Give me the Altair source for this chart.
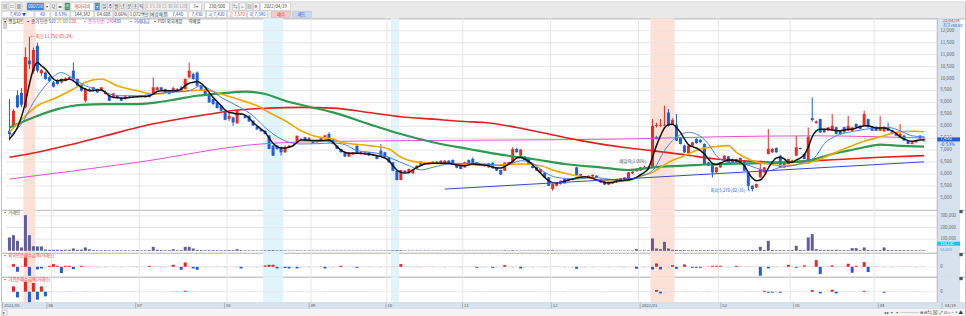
import altair as alt
import pandas as pd

FONT = "Noto Sans CJK KR"
W = 966

# ---------------- values ----------------
month_labels = ["2021/05", "06", "07", "08", "09", "10", "11", "12", "2022/01", "02", "03", "04"]
month_start = [0, 11, 33, 55, 76, 95, 114, 136, 158, 178, 196, 217]
last_date_label = "04/19"

opens = [7810, 7960, 9300, 9400, 8800, 10750, 10300, 11370, 10220, 10250,
         10050, 9840, 9940, 9840, 9910, 10000, 10330, 9980, 9770, 9070,
         9560, 9630, 9560, 9490, 9350, 9280, 9210, 9280, 9210, 9140,
         9250, 9210, 9240, 9230, 9280, 9220, 9350, 9520, 9630, 9560,
         9490, 9420, 9560, 9630, 9560, 10050, 10190, 10250, 9700, 9560,
         9350, 9140, 9000, 8860, 8650, 8300, 8370, 8130, 8510, 8440,
         8440, 8230, 7990, 7880, 7810, 7610, 7190, 7190, 7120, 6910,
         7120, 7190, 7330, 7470, 7540, 7400, 7400, 7330, 7400, 7540,
         7680, 7460, 7190, 7050, 6910, 6730, 6820, 7190, 6860, 6910,
         6910, 6770, 6770, 6980, 6910, 6700, 6490, 6140, 5750, 6140,
         6030, 6030, 6210, 6520, 6490, 6420, 6450, 6520, 6450, 6460,
         6560, 6590, 6420, 6380, 6280, 6590, 6630, 6490, 6350, 6330,
         6280, 6470, 6280, 6170, 6140, 6400, 6490, 7050, 6770, 6730,
         6630, 6350, 6280, 6070, 6070, 5860, 5370, 5510, 5580, 5790,
         5720, 5800, 6280, 5930, 5830, 5860, 5900, 5930, 5790, 5690,
         5560, 5650, 5650, 5720, 5770, 5830, 6030, 6120, 6150, 6250,
         6200, 6280, 8000, 8020, 8020, 8580, 8070, 8070, 7540, 7190,
         6870, 7190, 7470, 7430, 7260, 6490, 6420, 6070, 6280, 6560,
         6740, 6630, 6490, 6670, 6560, 6070, 5510, 5440, 5860, 6070,
         6840, 6910, 7090, 6770, 6280, 6420, 6560, 6770, 7090, 6840,
         6450, 8340, 8130, 8300, 7880, 7820, 7860, 7960, 7820, 7960,
         7820, 7810, 8100, 8020, 8020, 8300, 7960, 7960, 7810, 7790,
         7960, 7840, 7740, 7540, 7610, 7400, 7260, 7330, 7610, 7420]
closes = [7680, 8650, 8800, 8900, 10900, 10600, 11200, 10330, 10350, 9980,
          9900, 9660, 9770, 9980, 10000, 10050, 9980, 9700, 9490, 9560,
          9490, 9490, 9420, 9630, 9420, 9070, 9380, 9170, 9070, 9250,
          9210, 9240, 9230, 9280, 9220, 9280, 9630, 9630, 9490, 9420,
          9350, 9600, 9460, 9490, 9980, 10330, 9980, 9700, 9490, 9350,
          9000, 8930, 8760, 8650, 8270, 8440, 8160, 8650, 8520, 8340,
          8200, 8030, 7870, 7790, 7680, 7050, 6770, 7050, 6910, 7120,
          7190, 7190, 7600, 7430, 7400, 7500, 7290, 7400, 7500, 7620,
          7330, 7260, 7050, 6910, 6730, 6910, 6910, 6870, 6910, 6850,
          6770, 6840, 6630, 6770, 6700, 6490, 6140, 5750, 6170, 6070,
          6210, 6170, 6350, 6350, 6420, 6490, 6520, 6430, 6560, 6560,
          6420, 6450, 6260, 6210, 6490, 6420, 6450, 6350, 6380, 6400,
          6450, 6240, 6140, 5980, 6480, 6490, 7050, 6910, 7020, 6590,
          6420, 6250, 6140, 6210, 5860, 5510, 5580, 5650, 5720, 5610,
          5790, 5760, 5960, 6000, 5890, 5930, 5960, 5860, 5650, 5560,
          5650, 5610, 5790, 5820, 5860, 6070, 6100, 6210, 6280, 6280,
          6300, 8020, 8050, 8060, 8060, 8020, 8260, 7400, 7260, 6910,
          7190, 7330, 7290, 7330, 6420, 6350, 6070, 6280, 6490, 6770,
          6490, 6460, 6630, 6490, 6140, 5510, 5370, 5580, 6210, 6280,
          7050, 7050, 6910, 6280, 6490, 6630, 6580, 7120, 7050, 6630,
          7560, 8260, 8200, 7740, 7750, 7950, 8020, 7680, 7680, 7750,
          8020, 7950, 7960, 7890, 8510, 7960, 7810, 7810, 7950, 7960,
          7810, 7680, 7610, 7680, 7400, 7260, 7330, 7400, 7490, 7450]
highs = [9140, 8720, 9500, 9600, 11300, 11750, 11300, 11500, 10400, 10300,
         10100, 9900, 9980, 10000, 10050, 10080, 10670, 10000, 9800, 9600,
         9600, 9650, 9580, 9650, 9500, 9300, 9400, 9300, 9220, 9300,
         9280, 9260, 9270, 9300, 9300, 9300, 10050, 9660, 9650, 9580,
         9520, 9650, 9600, 9680, 10000, 10670, 10250, 10300, 9720, 9580,
         9380, 9160, 9030, 8880, 8680, 8620, 8400, 8680, 8560, 8460,
         8460, 8250, 8010, 7900, 7830, 7640, 7220, 7200, 7150, 7200,
         7220, 7220, 7620, 7500, 7560, 7550, 7430, 7420, 7530, 7640,
         7750, 7480, 7210, 7060, 6930, 6920, 6920, 7200, 6950, 6930,
         6920, 6860, 6780, 7260, 6930, 6720, 6500, 6160, 6180, 6160,
         6230, 6200, 6370, 6540, 6510, 6500, 6530, 6530, 6570, 6580,
         6580, 6610, 6440, 6390, 6520, 6610, 6700, 6500, 6400, 6430,
         6460, 6490, 6300, 6190, 6490, 6510, 7120, 7100, 7050, 6750,
         6650, 6370, 6300, 6220, 6090, 5880, 5600, 5660, 5730, 5810,
         5800, 5820, 6310, 6010, 5900, 5940, 5990, 5950, 5810, 5700,
         5670, 5670, 5800, 5830, 5870, 6090, 6120, 6230, 6300, 6350,
         6320, 8300, 8150, 8300, 8860, 8720, 8330, 8510, 7560, 7230,
         7200, 7350, 7500, 7460, 7280, 6510, 6440, 6300, 6500, 6790,
         6760, 6650, 6640, 6690, 6580, 6090, 5530, 5600, 6560, 6300,
         7880, 7100, 7120, 6790, 6500, 6640, 6600, 7600, 7110, 6860,
         7950, 9210, 8250, 8320, 7900, 7970, 8510, 7980, 7840, 7980,
         8440, 7970, 8120, 8050, 8650, 8320, 7980, 8000, 8440, 8000,
         8150, 7860, 7760, 8100, 7630, 7420, 7350, 7420, 7620, 7570]
lows = [7400, 7900, 8750, 8800, 8750, 10400, 10200, 10250, 10100, 9950,
        9850, 9620, 9740, 9800, 9880, 9950, 9950, 9680, 9450, 9000,
        9450, 9480, 9400, 9480, 9330, 9050, 9200, 9150, 9050, 9120,
        9180, 9190, 9200, 9210, 9200, 9200, 9330, 9500, 9480, 9400,
        9330, 9400, 9440, 9480, 9540, 10000, 9950, 9650, 9470, 9330,
        8980, 8900, 8750, 8640, 8250, 8220, 8020, 8100, 8480, 8330,
        8180, 8020, 7860, 7780, 7660, 7040, 6750, 7020, 6770, 6890,
        7100, 7150, 7300, 7400, 7380, 7380, 7280, 7300, 7380, 7520,
        7320, 7240, 7040, 6900, 6720, 6720, 6800, 6860, 6800, 6840,
        6760, 6760, 6620, 6750, 6690, 6480, 6120, 5740, 5730, 6050,
        6010, 6010, 6190, 6340, 6410, 6400, 6430, 6420, 6430, 6440,
        6410, 6440, 6240, 6200, 6260, 6410, 6430, 6340, 6330, 6310,
        6260, 6230, 6130, 5960, 6120, 6380, 6470, 6900, 6750, 6580,
        6410, 6240, 6130, 6050, 5850, 5500, 5300, 5490, 5560, 5600,
        5700, 5740, 5920, 5860, 5810, 5840, 5880, 5840, 5640, 5540,
        5540, 5600, 5630, 5700, 5750, 5810, 6000, 6100, 6130, 6210,
        6180, 6260, 7950, 7980, 8000, 7990, 8050, 7380, 7240, 6880,
        6850, 7170, 7270, 7310, 6400, 6330, 5860, 6050, 6260, 6540,
        6480, 6450, 6470, 6480, 6130, 5330, 5270, 5420, 5840, 6050,
        6820, 6890, 6890, 6260, 6260, 6400, 6540, 6750, 7030, 6620,
        6430, 8200, 8110, 7720, 7730, 7800, 7840, 7660, 7660, 7730,
        7800, 7790, 7940, 7870, 8000, 7940, 7800, 7800, 7790, 7770,
        7800, 7660, 7590, 7520, 7390, 7250, 7240, 7310, 7450, 7340]

volumes = [114000, 134000, 86000, 29000, 306000, 134000, 40000, 38000, 38000, 12000,
           9000, 9000, 9000, 8000, 9000, 9000, 20000, 9000, 10000, 29000,
           12000, 6000, 5000, 5000, 6000, 5000, 5000, 6000, 5000, 5000,
           5000, 5000, 6000, 5000, 5000, 7000, 34000, 9000, 7000, 6000,
           6000, 14000, 6000, 7000, 34000, 34000, 20000, 9000, 7000, 6000,
           6000, 6000, 6000, 5000, 6000, 6000, 6000, 14000, 6000, 5000,
           5000, 5000, 5000, 5000, 5000, 6000, 7000, 5000, 5000, 5000,
           4000, 4000, 5000, 4000, 4000, 4000, 4000, 4000, 4000, 4000,
           4000, 4000, 4000, 4000, 4000, 4000, 4000, 4000, 4000, 4000,
           4000, 4000, 4000, 4000, 4000, 4000, 5000, 6000, 6000, 4000,
           4000, 4000, 4000, 4000, 4000, 4000, 4000, 4000, 4000, 4000,
           4000, 4000, 4000, 4000, 4000, 4000, 4000, 4000, 4000, 4000,
           4000, 4000, 4000, 4000, 5000, 4000, 6000, 4000, 4000, 4000,
           4000, 4000, 4000, 4000, 4000, 5000, 6000, 4000, 4000, 4000,
           4000, 4000, 5000, 4000, 4000, 4000, 4000, 4000, 4000, 4000,
           4000, 4000, 4000, 4000, 4000, 4000, 4000, 14000, 4000, 4000,
           5000, 106000, 20000, 14000, 77000, 20000, 9000, 8000, 6000, 6000,
           5000, 5000, 5000, 5000, 6000, 5000, 6000, 5000, 5000, 5000,
           5000, 5000, 5000, 5000, 5000, 6000, 7000, 6000, 34000, 7000,
           86000, 7000, 6000, 6000, 5000, 5000, 6000, 43000, 7000, 6000,
           114000, 143000, 14000, 9000, 8000, 8000, 8000, 9000, 6000, 6000,
           6000, 23000, 23000, 6000, 29000, 8000, 6000, 6000, 6000, 29000,
           7000, 6000, 6000, 6000, 6000, 6000, 5000, 5000, 5000, 5000]

foreign_net = [0, 8, -15, 2, 28, -27, 1, -8, -5, -2,
               3, 8, 3, -19, 3, 3, -7, 1, 3, 1,
               -1, 1, -2, -1, -2, 1, 2, -1, -2, 1,
               -1, 2, -2, 1, -1, 3, 1, 2, -2, -2,
               1, 6, -2, -9, 13, 2, -5, -9, 1, -2,
               1, -1, 2, -1, -2, 1, 1, -2, -5, 1,
               -1, 1, -2, 1, 4, 6, 6, -5, -2, -4,
               -5, -2, -5, -2, 1, -2, 1, -1, 2, -5,
               1, -2, 1, 3, -1, 1, -2, -3, 1, -1,
               2, -1, 1, -2, 1, -1, 2, 1, 8, 2,
               1, -1, 2, -2, 1, 1, 2, -1, 1, -2,
               1, -1, 1, -2, 1, -1, 2, -3, -2, -2,
               1, -3, -2, 1, 5, 1, -2, 1, -5, -2,
               1, -2, 1, 1, -2, 1, -1, 2, 1, -2,
               1, -2, -6, 1, -2, 1, -2, 1, -1, 1,
               -2, 1, -1, 2, -2, 1, -1, -6, 1, -2,
               1, -8, 10, -8, 1, -2, 5, -6, 1, 7,
               1, -3, -3, -3, 1, 2, 3, 3, 3, 1,
               -2, 1, 3, 2, 1, 2, -1, 1, -27, 1,
               -5, 1, -2, 1, 2, 6, 1, -3, 2, 4,
               1, 2, 20, -22, 1, 2, 4, -2, 1, 2,
               9, -18, 3, 1, 14, -16, 1, 2, 1, -2,
               1, -2, 1, -1, 2, 2, -1, -2, 1, -1]

inst_net = [0, 16, -17, 0, 30, -32, 26, -24, 16, -14,
            2, 0, 0, 0, 0, 2, 0, 0, 0, 2,
            -1, 0, 0, 0, 0, 0, 0, 0, 0, 0,
            0, 2, 0, 0, 0, 0, 0, 0, 0, 0,
            0, 2, 2, 0, 3, -1, -1, 0, 0, 0,
            0, 0, 0, 0, 0, 0, 0, 0, 0, 0,
            0, 0, 0, 0, 0, 0, 0, 0, 0, 0,
            0, 0, 0, 0, 0, 0, 0, 0, 0, -1,
            0, 0, 0, 0, 0, 0, 0, 0, 0, 0,
            0, 0, 0, 0, 0, 0, 0, 0, 0, 0,
            0, 0, 0, 0, 0, 0, 0, 0, 0, 0,
            0, 0, 0, 0, 0, 0, 0, 0, -1, -1,
            0, 0, 0, 0, 0, 0, 0, 0, 0, 0,
            0, 0, 0, 0, 0, 0, 1, 0, 0, -1,
            0, 0, 0, 0, 0, 0, 0, 0, 0, 0,
            0, 0, 0, 0, 0, 0, 0, 0, 0, 0,
            0, 1, 5, -5, 1, -1, 1, -1, 0, 1,
            -1, 1, -1, 0, 1, -1, 0, 0, 0, 0,
            0, 0, 0, 0, 0, 0, 0, 0, 0, 3,
            -3, -3, -2, -3, 0, 0, 0, 0, 0, 0,
            0, 5, 1, -5, 0, 1, 6, -5, 0, 0,
            0, 0, 0, 0, 3, 1, 0, 0, 0, -3,
            0, 0, 0, 0, 0, 0, 0, 0, 0, 0]

# moving-average lines (candle index, price)
ma5_i = [0, 2, 4, 5, 6, 7, 8, 9, 10, 11, 12, 13, 14, 15, 16, 17, 18, 19, 20, 21, 22, 23, 24, 25, 26, 27, 28, 30, 32, 34, 35, 36, 37, 38, 40, 42, 43, 44, 45, 46, 47, 48, 49, 50, 51, 52, 53, 54, 55, 56, 57, 58, 59, 60, 61, 62, 63, 64, 65, 66, 67, 68, 69, 70, 71, 72, 73, 74, 76, 78, 80, 81, 82, 83, 84, 85, 86, 87, 88, 89, 90, 91, 92, 93, 94, 95, 96, 97, 98, 99, 100, 101, 102, 103, 104, 106, 108, 110, 112, 114, 116, 118, 120, 122, 123, 124, 125, 126, 127, 128, 129, 130, 131, 132, 133, 134, 135, 136, 137, 138, 139, 140, 141, 142, 143, 144, 145, 146, 147, 148, 149, 150, 151, 152, 153, 154, 155, 156, 157, 158, 159, 160, 161, 162, 163, 164, 165, 166, 167, 168, 169, 170, 171, 172, 173, 174, 175, 176, 177, 178, 179, 180, 181, 182, 183, 184, 185, 186, 187, 188, 189, 190, 191, 192, 193, 194, 195, 196, 197, 198, 199, 200, 201, 202, 203, 204, 205, 206, 207, 208, 209, 210, 211, 212, 213, 214, 215, 216, 217, 218, 219, 220, 221, 222, 223, 224, 225, 226, 227, 228, 229]
ma5_v = [7470, 7950, 9000, 9770, 10400, 10675, 10535, 10400, 10190, 9980, 9900, 9935, 9935, 9980, 9900, 9770, 9630, 9560, 9490, 9490, 9520, 9520, 9420, 9280, 9210, 9210, 9170, 9210, 9240, 9250, 9280, 9350, 9460, 9490, 9490, 9490, 9560, 9700, 9800, 9840, 9880, 9800, 9630, 9420, 9210, 9040, 8860, 8680, 8580, 8555, 8510, 8510, 8470, 8345, 8160, 8020, 7880, 7745, 7510, 7285, 7145, 7090, 7090, 7120, 7190, 7330, 7425, 7425, 7400, 7400, 7425, 7330, 7150, 7000, 6910, 6870, 6870, 6870, 6870, 6840, 6840, 6810, 6770, 6730, 6670, 6560, 6350, 6170, 6070, 6040, 6070, 6170, 6280, 6350, 6420, 6450, 6450, 6450, 6380, 6350, 6420, 6390, 6350, 6250, 6250, 6310, 6420, 6530, 6670, 6700, 6630, 6530, 6390, 6210, 6030, 5860, 5720, 5640, 5625, 5650, 5700, 5750, 5790, 5830, 5860, 5890, 5860, 5830, 5750, 5700, 5650, 5640, 5650, 5700, 5720, 5740, 5760, 5790, 5860, 5970, 6070, 6250, 6700, 7190, 7600, 7930, 8070, 8090, 7950, 7745, 7470, 7230, 7150, 7090, 6980, 6840, 6630, 6450, 6390, 6450, 6530, 6590, 6590, 6560, 6490, 6350, 6070, 5830, 5720, 5750, 5930, 6250, 6490, 6670, 6700, 6630, 6490, 6490, 6590, 6670, 6810, 7120, 7560, 7810, 7880, 7880, 7880, 7840, 7810, 7810, 7840, 7880, 7880, 7930, 7980, 8020, 8020, 7980, 7930, 7930, 7930, 7880, 7810, 7700, 7560, 7470, 7400, 7370, 7400, 7425, 7440]
ma10_i = [0, 3, 6, 9, 13, 15, 19, 23, 27, 32, 36, 40, 45, 48, 50, 53, 57, 61, 64, 68, 70, 73, 77, 81, 84, 87, 92, 96, 100, 103, 106, 110, 116, 121, 124, 128, 131, 134, 137, 142, 146, 150, 153, 157, 161, 164, 166, 168, 170, 172, 175, 177, 180, 184, 187, 190, 193, 196, 199, 202, 204, 207, 210, 213, 217, 220, 223, 226, 229]
ma10_v = [7600, 8100, 9000, 9700, 10250, 10100, 9700, 9490, 9280, 9280, 9350, 9420, 9490, 9700, 9560, 9210, 8860, 8440, 7950, 7470, 7330, 7260, 7270, 7300, 7230, 6980, 6870, 6630, 6350, 6170, 6280, 6420, 6450, 6390, 6350, 6560, 6450, 6070, 5860, 5790, 5860, 5790, 5720, 5860, 6140, 6980, 7400, 7650, 7745, 7675, 7260, 6770, 6490, 6420, 6250, 6140, 6280, 6350, 6490, 6770, 7260, 7600, 7745, 7840, 7930, 7950, 7810, 7600, 7560]
ma20_i = [0, 4, 7, 11, 16, 19, 23, 27, 32, 36, 40, 45, 49, 53, 57, 62, 65, 69, 73, 77, 81, 83, 90, 95, 98, 101, 106, 111, 116, 121, 124, 129, 133, 136, 139, 144, 148, 152, 155, 157, 161, 165, 169, 173, 177, 180, 182, 186, 190, 194, 198, 202, 206, 210, 214, 218, 222, 226, 229]
ma20_v = [7745, 8440, 8860, 9140, 9560, 9840, 9980, 9700, 9490, 9350, 9420, 9490, 9520, 9350, 9140, 8860, 8580, 8230, 7815, 7560, 7470, 7330, 7190, 7050, 6700, 6530, 6450, 6420, 6390, 6350, 6400, 6420, 6350, 6170, 6030, 5860, 5750, 5700, 5720, 5860, 6070, 6490, 6770, 7050, 7150, 7190, 6910, 6560, 6420, 6350, 6420, 6560, 6840, 7120, 7370, 7560, 7745, 7790, 7770]
ma60_i = [0, 6, 12, 18, 24, 32, 37, 42, 47, 53, 59, 64, 69, 75, 81, 90, 98, 106, 115, 123, 131, 139, 148, 155, 161, 169, 177, 186, 194, 200, 206, 210, 214, 218, 222, 229]
ma60_v = [7950, 8370, 8720, 8900, 8930, 8930, 9000, 9140, 9280, 9380, 9450, 9350, 9070, 8820, 8580, 8090, 7675, 7330, 7050, 6810, 6630, 6420, 6280, 6170, 6280, 6350, 6420, 6450, 6490, 6560, 6840, 6980, 7120, 7230, 7190, 7150]
ma120_i = [0, 7, 16, 24, 32, 40, 49, 57, 65, 73, 81, 90, 98, 106, 114, 119, 127, 135, 143, 155, 161, 169, 177, 186, 194, 202, 210, 218, 229]
ma120_v = [6700, 6910, 7260, 7600, 7950, 8230, 8480, 8680, 8760, 8790, 8760, 8580, 8400, 8300, 8200, 8160, 7950, 7675, 7400, 7090, 6980, 6810, 6630, 6530, 6490, 6560, 6630, 6700, 6770]
ma240_i = [0, 32, 63, 81, 120, 155, 177, 202, 218, 229]
ma240_v = [5790, 6490, 7260, 7370, 7420, 7470, 7560, 7600, 7560, 7510]
trend_i = [109, 229]
trend_v = [5370, 6510]

band_start = [4, 64, 96, 161]
band_end = [6, 68, 97, 166]
band_kind = ["pink", "blue", "blue", "pink"]

price_levels = [5000, 5500, 6000, 6500, 7000, 7500, 8000, 8500, 9000, 9500, 10000, 10500, 11000, 11500, 12000]
volume_levels = [100000, 200000, 300000]
last_price, last_change_pct = 7450, "-0.53%"
last_volume, volume_ma = "144,142", "64,608"
high_note = ("← 최고 11,750 (05/24)", 5, 11750)
low_note = ("최저 5,270 (02/16) →", 186, 5270)
div_note = ("배당락(1.00%)", 160, 6490)
signal_i, signal_v = [162], [7523]

# ---------------- layout / styling ----------------
N = len(closes)
X_DOM = [-0.87, 238.0]
STRIP = 232.3
UP, DOWN = "#ee2a1f", "#1f5ed6"
BAND_COL = {"pink": "#fde0d6", "blue": "#e0f4fc"}
GRID = "#e6e6e6"
STRIP_COL = "#d7e2ef"
H_HDR, H_PRICE, H_VOL, H_F, H_I, H_AX, H_SC = 17, 192, 43, 24, 26, 6, 8
FS = 4.3


def X(field):
    return alt.X(field, type="quantitative", scale=alt.Scale(domain=X_DOM, nice=False, zero=False), axis=None)


def PX(field):
    return alt.X(field, type="quantitative", scale=None, axis=None)


def PY(field):
    return alt.Y(field, type="quantitative", scale=None, axis=None)


bands_df = pd.DataFrame({"a": [s - 0.5 for s in band_start], "b": [e + 0.5 for e in band_end],
                         "col": [BAND_COL[k] for k in band_kind]})
mgrid_df = pd.DataFrame({"m": [s - 0.5 for s in month_start[1:]]})
strip_df = pd.DataFrame({"a": [STRIP], "b": [X_DOM[1]]})


def background(h, with_bands=True):
    layers = []
    if with_bands:
        layers.append(alt.Chart(bands_df).mark_rect().encode(
            x=X("a"), x2="b", y=alt.value(0), y2=alt.value(h), color=alt.Color("col:N", scale=None)))
    layers.append(alt.Chart(mgrid_df).mark_rule(color=GRID, strokeWidth=1).encode(
        x=X("m"), y=alt.value(0), y2=alt.value(h)))
    layers.append(alt.Chart(strip_df).mark_rect(color=STRIP_COL).encode(
        x=X("a"), x2="b", y=alt.value(0), y2=alt.value(h)))
    layers.append(alt.Chart(strip_df).mark_rule(color="#a9b9cf", strokeWidth=1).encode(
        x=X("a"), y=alt.value(0), y2=alt.value(h)))
    return layers


def panel_tag(text, color):
    df = pd.DataFrame({"t": [text]})
    return alt.Chart(df).mark_text(align="left", baseline="top", fontSize=FS, font=FONT, color=color).encode(
        x=alt.value(2), y=alt.value(1.5), text="t:N")


def corner_button():
    df = pd.DataFrame({"t": ["■"]})
    return alt.Chart(df).mark_text(align="right", baseline="top", fontSize=4, font=FONT, color="#555").encode(
        x=alt.value(W - 2), y=alt.value(1.5), text="t:N")


# ---------- price panel ----------
P_DOM = [4498, 12523]


def PYs(field):
    return alt.Y(field, type="quantitative", scale=alt.Scale(domain=P_DOM, nice=False, zero=False), axis=None)


cdf = pd.DataFrame({"i": list(range(N)), "o": opens, "h": highs, "l": lows, "c": closes})
cdf["col"] = [UP if c >= o else DOWN for o, c in zip(opens, closes)]

hgrid_df = pd.DataFrame({"p": price_levels, "a": X_DOM[0], "b": STRIP})
plabel_df = pd.DataFrame({"p": price_levels, "x": STRIP, "t": [f"{v:,}" for v in price_levels]})

price_layers = background(H_PRICE)
price_layers.append(alt.Chart(hgrid_df).mark_rule(color=GRID, strokeWidth=1).encode(
    y=PYs("p"), x=X("a"), x2="b"))
price_layers.append(alt.Chart(cdf).mark_rule(strokeWidth=1).encode(
    x=X("i"), y=PYs("l"), y2="h", color=alt.Color("col:N", scale=None)))
price_layers.append(alt.Chart(cdf).mark_bar(size=3).encode(
    x=X("i"), y=PYs("o"), y2="c", color=alt.Color("col:N", scale=None)))

ma_specs = [(ma240_i, ma240_v, "#e052d2", 1.0), (ma120_i, ma120_v, "#e41f1f", 1.6),
            (ma60_i, ma60_v, "#2f9a52", 2.2), (ma20_i, ma20_v, "#f1a800", 1.6),
            (ma10_i, ma10_v, "#4c80f0", 1.0), (ma5_i, ma5_v, "#111111", 1.5)]
for mi, mv, col, sw in ma_specs:
    price_layers.append(alt.Chart(pd.DataFrame({"i": mi, "v": mv})).mark_line(
        color=col, strokeWidth=sw, interpolate="monotone").encode(x=X("i"), y=PYs("v")))
price_layers.append(alt.Chart(pd.DataFrame({"i": trend_i, "v": trend_v})).mark_line(
    color="#3848c4", strokeWidth=1).encode(x=X("i"), y=PYs("v")))
price_layers.append(alt.Chart(pd.DataFrame({"i": signal_i, "v": signal_v})).mark_point(
    shape="cross", size=14, filled=True, color="#2438e0").encode(x=X("i"), y=PYs("v")))

notes = pd.DataFrame({"t": [high_note[0]], "i": [high_note[1]], "v": [high_note[2]]})
price_layers.append(alt.Chart(notes).mark_text(align="left", baseline="middle", dx=1, fontSize=FS,
                                               font=FONT, color="#e53030").encode(
    x=X("i"), y=PYs("v"), text="t:N"))
notes2 = pd.DataFrame({"t": [low_note[0]], "i": [low_note[1]], "v": [low_note[2]]})
price_layers.append(alt.Chart(notes2).mark_text(align="right", baseline="middle", dx=-2, fontSize=FS,
                                                font=FONT, color="#2a4fd8").encode(
    x=X("i"), y=PYs("v"), text="t:N"))
notes3 = pd.DataFrame({"t": [div_note[0]], "i": [div_note[1]], "v": [div_note[2]]})
price_layers.append(alt.Chart(notes3).mark_text(align="right", baseline="middle", dx=-2, fontSize=FS,
                                                font=FONT, color="#555555").encode(
    x=X("i"), y=PYs("v"), text="t:N"))

price_layers.append(alt.Chart(plabel_df).mark_text(align="left", baseline="middle", dx=3, fontSize=4.6,
                                                   font=FONT, color="#666666").encode(
    x=X("x"), y=PYs("p"), text="t:N"))
cur_df = pd.DataFrame({"a": [STRIP], "b": [X_DOM[1]], "lo": [last_price - 85], "hi": [last_price + 85],
                       "v": [last_price], "t": [f"{last_price:,}"], "pct": [last_change_pct],
                       "vp": [last_price - 230]})
price_layers.append(alt.Chart(cur_df).mark_rect(color="#1f5fd0").encode(
    x=X("a"), x2="b", y=PYs("lo"), y2="hi"))
price_layers.append(alt.Chart(cur_df).mark_text(align="left", baseline="middle", dx=3, fontSize=4.6,
                                                font=FONT, color="white").encode(
    x=X("a"), y=PYs("v"), text="t:N"))
price_layers.append(alt.Chart(cur_df).mark_text(align="left", baseline="middle", dx=3, fontSize=4.6,
                                                font=FONT, color="#2a55d0").encode(
    x=X("a"), y=PYs("vp"), text="pct:N"))

legend_items = pd.DataFrame({
    "x": [2, 25, 50, 56, 62, 68, 82, 106, 113, 128, 152, 188],
    "t": ["▣ 캔들차트", "▪ 종가 단순 5", "10", "20", "60", "120", "▪ 종가 단순", "240", "480", "▪ 거래대금",
          "▪ FIDI 외국계창", "역배열"],
    "col": ["#333333", "#333333", "#3060e0", "#e0a000", "#2f9a52", "#e41f1f", "#e052d2", "#e052d2",
            "#3060e0", "#3060e0", "#333333", "#333333"]})
price_layers.append(alt.Chart(legend_items).mark_text(align="left", baseline="middle", fontSize=FS,
                                                      font=FONT).encode(
    x=PX("x"), y=alt.value(3.5), text="t:N", color=alt.Color("col:N", scale=None)))
price_layers.append(alt.Chart(pd.DataFrame({"t": ["▤"]})).mark_text(
    align="left", baseline="middle", fontSize=FS, font=FONT, color="#555555").encode(
    x=alt.value(2), y=alt.value(9), text="t:N"))
top_notes = pd.DataFrame({"t": ["22/04/19", "최고+98.60"], "y": [3, 8], "col": ["#e53030", "#3060e0"]})
price_layers.append(alt.Chart(top_notes).mark_text(align="left", baseline="middle", fontSize=4,
                                                   font=FONT).encode(
    x=alt.value(944), y=PY("y"), text="t:N", color=alt.Color("col:N", scale=None)))

price = alt.layer(*price_layers).properties(width=W, height=H_PRICE)

# ---------- volume panel ----------
V_DOM = [-17000, 351000]


def VY(field):
    return alt.Y(field, type="quantitative", scale=alt.Scale(domain=V_DOM, nice=False, zero=False), axis=None)


vdf = pd.DataFrame({"i": list(range(N)), "v": volumes, "z": 0})
vgrid = pd.DataFrame({"p": volume_levels, "a": X_DOM[0], "b": STRIP, "x": STRIP,
                      "t": [f"{v:,}" for v in volume_levels]})
vol_layers = background(H_VOL)
vol_layers.append(alt.Chart(vgrid).mark_rule(color=GRID).encode(y=VY("p"), x=X("a"), x2="b"))
vol_layers.append(alt.Chart(vdf).mark_bar(size=3, color="#615e9a").encode(x=X("i"), y=VY("v"), y2="z"))
vol_layers.append(alt.Chart(vgrid).mark_text(align="left", baseline="middle", dx=3, fontSize=4.4, font=FONT,
                                             color="#666666").encode(x=X("x"), y=VY("p"), text="t:N"))
vbox = pd.DataFrame({"a": [STRIP], "b": [X_DOM[1]], "lo": [44000], "hi": [78000], "m": [61000],
                     "t": [last_volume], "t2": [volume_ma], "m2": [4000]})
vol_layers.append(alt.Chart(vbox).mark_rect(color="#19c3f0").encode(x=X("a"), x2="b", y=VY("lo"), y2="hi"))
vol_layers.append(alt.Chart(vbox).mark_text(align="left", baseline="middle", dx=3, fontSize=3.8, font=FONT,
                                            color="white").encode(x=X("a"), y=VY("m"), text="t:N"))
vol_layers.append(alt.Chart(vbox).mark_text(align="left", baseline="middle", dx=3, fontSize=3.8, font=FONT,
                                            color="#5aa0e0").encode(x=X("a"), y=VY("m2"), text="t2:N"))
vol_layers.append(panel_tag("▪ 거래량", "#555555"))
vol_layers.append(corner_button())
volume = alt.layer(*vol_layers).properties(width=W, height=H_VOL)


# ---------- indicator panels ----------
def indicator(values, dom, h, tag):
    def IY(field):
        return alt.Y(field, type="quantitative", scale=alt.Scale(domain=dom, nice=False, zero=False), axis=None)
    cols = []
    for v in values:
        if v > 2:
            cols.append("#ee2020")
        elif v > 0:
            cols.append("#f6b4b4")
        elif v < -2:
            cols.append("#1f5ed6")
        elif v < 0:
            cols.append("#a9c2f0")
        else:
            cols.append("#f3d0d0")
    df = pd.DataFrame({"i": list(range(N)), "v": [v if v != 0 else 0.6 for v in values], "z": 0, "col": cols})
    zero = pd.DataFrame({"p": [0], "a": X_DOM[0], "b": STRIP, "x": STRIP, "t": ["0"]})
    layers = background(h)
    layers.append(alt.Chart(zero).mark_rule(color="#eeeeee").encode(y=IY("p"), x=X("a"), x2="b"))
    layers.append(alt.Chart(df).mark_bar(size=3).encode(x=X("i"), y=IY("v"), y2="z",
                                                        color=alt.Color("col:N", scale=None)))
    layers.append(alt.Chart(zero).mark_text(align="left", baseline="middle", dx=3, fontSize=4.6, font=FONT,
                                            color="#666666").encode(x=X("x"), y=IY("p"), text="t:N"))
    layers.append(panel_tag(tag, "#e53030"))
    layers.append(corner_button())
    return alt.layer(*layers).properties(width=W, height=h)


ind1 = indicator(foreign_net, [-30, 42], H_F, "▪ 외국인순매수금액(거래소)")
ind2 = indicator(inst_net, [-33, 45], H_I, "▪ 기관순매수금액(거래소)")

# ---------- x axis strip ----------
full_df = pd.DataFrame({"a": [X_DOM[0]], "b": [X_DOM[1]]})
ax_lab = pd.DataFrame({"m": [s - 0.5 for s in month_start], "t": month_labels})
ax_layers = [
    alt.Chart(full_df).mark_rect(color=STRIP_COL).encode(x=X("a"), x2="b", y=alt.value(0), y2=alt.value(H_AX)),
    alt.Chart(ax_lab).mark_rule(color="#aab6c6").encode(x=X("m"), y=alt.value(0), y2=alt.value(H_AX)),
    alt.Chart(ax_lab).mark_text(align="left", baseline="middle", dx=1.5, fontSize=4.2, font=FONT,
                                color="#555555").encode(x=X("m"), y=alt.value(3.2), text="t:N"),
    alt.Chart(pd.DataFrame({"a": [STRIP], "t": [last_date_label]})).mark_text(
        align="left", baseline="middle", dx=3, fontSize=4.2, font=FONT, color="#555555").encode(
        x=X("a"), y=alt.value(3.2), text="t:N"),
    alt.Chart(strip_df).mark_rule(color="#a9b9cf").encode(x=X("a"), y=alt.value(0), y2=alt.value(H_AX)),
]
xaxis = alt.layer(*ax_layers).properties(width=W, height=H_AX)

# ---------- scroll bar ----------
sc_text = pd.DataFrame({"x": [3, 964], "t": ["▸", "◂ ▸ ▪ ▪ ┈┈┈┈ ⊞ ⊟ ⇆ ⊠ ⤢ ⊡ ⌕ − + ▲"]})
sc_layers = [
    alt.Chart(pd.DataFrame({"x0": [0], "x1": [W]})).mark_rect(color="#f4f4f4").encode(
        x=PX("x0"), x2="x1", y=alt.value(0), y2=alt.value(H_SC)),
    alt.Chart(pd.DataFrame({"x0": [1], "x1": [6]})).mark_rect(color="#ffffff", stroke="#999999",
                                                             strokeWidth=0.5).encode(
        x=PX("x0"), x2="x1", y=alt.value(1.5), y2=alt.value(6.5)),
    alt.Chart(sc_text.iloc[[0]]).mark_text(align="center", baseline="middle", fontSize=4, font=FONT,
                                           color="#333333").encode(x=PX("x"), y=alt.value(4), text="t:N"),
    alt.Chart(sc_text.iloc[[1]]).mark_text(align="right", baseline="middle", fontSize=4.5, font=FONT,
                                           color="#333333").encode(x=PX("x"), y=alt.value(4), text="t:N"),
]
scroll = alt.layer(*sc_layers).properties(width=W, height=H_SC)

# ---------- header toolbar ----------
hdr_boxes = pd.DataFrame([
    (1, 7, 1.5, 9, "#f6f6f6"), (8, 14, 1.5, 9, "#f6f6f6"), (15, 21, 1.5, 9, "#f6f6f6"),
    (26, 43, 1.5, 9, "#3d7ee0"), (44, 49, 1.5, 9, "#f6f6f6"), (50, 55, 1.5, 9, "#f6f6f6"),
    (56, 62, 1.5, 9, "#f6f6f6"), (64, 69, 1.5, 9, "#2e8b57"), (70, 93, 1.5, 9, "#ffffff"),
    (94, 99, 1.5, 9, "#3a6fd8"), (101, 106, 1.5, 9, "#f6f6f6"), (107, 112, 1.5, 9, "#f6f6f6"),
    (113, 118, 1.5, 9, "#f6f6f6"), (119, 124, 1.5, 9, "#f6f6f6"), (126, 131, 1.5, 9, "#f6f6f6"),
    (132, 137, 1.5, 9, "#f6f6f6"), (138, 143, 1.5, 9, "#f6f6f6"), (145, 186, 1.5, 9, "#efefef"),
    (189, 201, 1.5, 9, "#ffffff"), (204, 229, 1.5, 9, "#ffffff"), (232, 238, 1.5, 9, "#f6f6f6"),
    (239, 245, 1.5, 9, "#f6f6f6"), (246, 252, 1.5, 9, "#f6f6f6"), (253, 259, 1.5, 9, "#f6f6f6"),
    (260, 290, 1.5, 9, "#ffffff"),
    (1, 33, 10, 16.3, "#ffffff"), (34, 49, 10, 16.3, "#ffffff"), (50, 69, 10, 16.3, "#ffffff"),
    (70, 93, 10, 16.3, "#ffffff"), (94, 112, 10, 16.3, "#ffffff"), (113, 127, 10, 16.3, "#ffffff"),
    (128, 149, 10, 16.3, "#ffffff"), (150, 166, 10, 16.3, "#ffffff"), (167, 187, 10, 16.3, "#ffffff"),
    (188, 205, 10, 16.3, "#ffffff"), (206, 226, 10, 16.3, "#ffffff"), (227, 246, 10, 16.3, "#ffffff"),
    (247, 267, 10, 16.3, "#ffffff"), (271, 290, 10, 16.3, "#f7caca"), (292, 311, 10, 16.3, "#c8d8f6"),
], columns=["x0", "x1", "y0", "y1", "fill"])
hdr_text = pd.DataFrame([
    (4, 5.3, "▤", "#444444"), (11, 5.3, "☐", "#444444"), (18, 5.3, "▦", "#444444"),
    (34.5, 5.3, "000720", "#ffffff"), (46.5, 5.3, "▾", "#444444"), (52.5, 5.3, "Q", "#444444"),
    (59, 5.3, "◂▸", "#444444"), (66.5, 5.3, "종", "#ffffff"), (81.5, 5.3, "케이티비", "#e03030"),
    (96.5, 5.3, "▣", "#ffffff"), (103.5, 5.3, "일", "#333333"), (109.5, 5.3, "주", "#333333"),
    (115.5, 5.3, "월", "#333333"), (121.5, 5.3, "년", "#333333"), (128.5, 5.3, "분", "#333333"),
    (134.5, 5.3, "초", "#333333"), (140.5, 5.3, "틱", "#333333"),
    (165.5, 5.3, "1  3  5  10  15  30  60  120", "#999999"),
    (195, 5.3, "3 ▾", "#555555"), (216.5, 5.3, "230/500", "#333333"),
    (235, 5.3, "⇆", "#444444"), (242, 5.3, "⌗", "#444444"), (249, 5.3, "▤", "#444444"),
    (256, 5.3, "⚙", "#444444"), (275, 5.3, "2022/04/19", "#333333"),
    (17, 13.3, "7,450 ▼", "#2a55d0"), (41.5, 13.3, "40", "#2a55d0"), (59.5, 13.3, "-0.53%", "#2a55d0"),
    (81.5, 13.3, "144,142", "#333333"), (103, 13.3, "64.608", "#333333"), (120, 13.3, "0.66%", "#333333"),
    (138.5, 13.3, "1,072백만", "#333333"), (158, 13.3, "예상체결", "#333333"), (177, 13.3, "7,440", "#2a55d0"),
    (196.5, 13.3, "7,430", "#2a55d0"), (216, 13.3, "시 7,420", "#2a55d0"), (236.5, 13.3, "고 7,570", "#e03030"),
    (257, 13.3, "저 7,340", "#2a55d0"), (280.5, 13.3, "매수", "#e03030"), (301.5, 13.3, "매도", "#2a55d0"),
], columns=["x", "y", "t", "col"])
header = alt.layer(
    alt.Chart(pd.DataFrame({"x0": [0], "x1": [W]})).mark_rect(color="#e9e9e9").encode(
        x=PX("x0"), x2="x1", y=alt.value(0), y2=alt.value(H_HDR)),
    alt.Chart(hdr_boxes).mark_rect(stroke="#b9b9b9", strokeWidth=0.5).encode(
        x=PX("x0"), x2="x1", y=PY("y0"), y2="y1", color=alt.Color("fill:N", scale=None)),
    alt.Chart(hdr_text).mark_text(align="center", baseline="middle", fontSize=4.4, font=FONT).encode(
        x=PX("x"), y=PY("y"), text="t:N", color=alt.Color("col:N", scale=None)),
).properties(width=W, height=H_HDR)

chart = alt.vconcat(header, price, volume, ind1, ind2, xaxis, scroll, spacing=0, bounds="flush").properties(
    padding=0, background="#ffffff"
).resolve_scale(x="independent", y="independent", color="independent").configure_view(
    stroke="#c4c4c4", strokeWidth=1
).configure_concat(spacing=0)

chart.save("out.html", embed_options={"renderer": "svg", "actions": False})
